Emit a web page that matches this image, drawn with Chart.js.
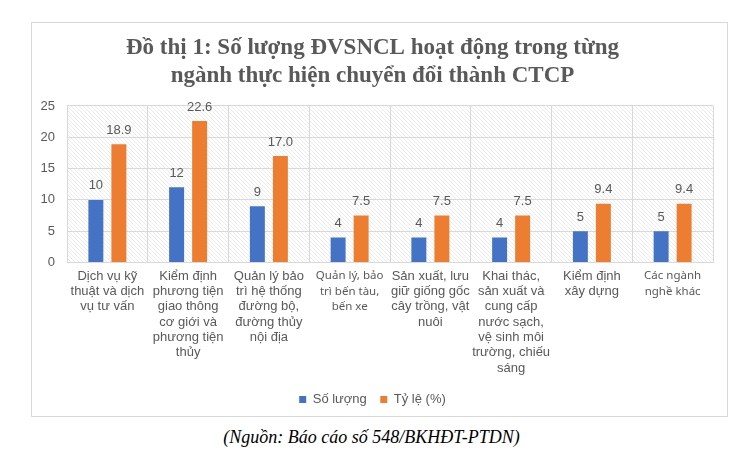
<!DOCTYPE html>
<html>
<head>
<meta charset="utf-8">
<script src="https://cdn.jsdelivr.net/npm/chart.js@4.4.1/dist/chart.umd.min.js"></script>
<style>
  body { margin: 0; background: #fff; width: 743px; height: 455px; position: relative; overflow: hidden; }
  #box { position: absolute; left: 31px; top: 22px; width: 695px; height: 393px; border: 1px solid #d9d9d9; }
  #myBarChart { display: block; }
  #caption { position: absolute; left: 0; width: 743px; top: 427px; text-align: center;
    font-family: "Liberation Serif", serif; font-style: italic; font-size: 18px; color: #000; }
</style>
</head>
<body>
<div id="box"><canvas id="myBarChart" width="695" height="393"></canvas></div>
<div id="caption">(Nguồn: Báo cáo số 548/BKHĐT-PTDN)</div>
<script>
const categories = [
    ['Dịch vụ kỹ', 'thuật và dịch', 'vụ tư vấn'],
    ['Kiểm định', 'phương tiện', 'giao thông', 'cơ giới và', 'phương tiện', 'thủy'],
    ['Quản lý bảo', 'trì hệ thống', 'đường bộ,', 'đường thủy', 'nội địa'],
    ['Quản lý, bảo', 'trì bến tàu,', 'bến xe'],
    ['Sản xuất, lưu', 'giữ giống gốc', 'cây trồng, vật', 'nuôi'],
    ['Khai thác,', 'sản xuất và', 'cung cấp', 'nước sạch,', 'vệ sinh môi', 'trường, chiếu', 'sáng'],
    ['Kiểm định', 'xây dựng'],
    ['Các ngành', 'nghề khác']
];
const soLuong = [10, 12, 9, 4, 4, 4, 5, 5];
const tyLe = [18.9, 22.6, 17.0, 7.5, 7.5, 7.5, 9.4, 9.4];
const yTicks = [0, 5, 10, 15, 20, 25];

// light diagonal hatch behind the plot area
const hatch = document.createElement('canvas');
hatch.width = 4; hatch.height = 4;
const hctx = hatch.getContext('2d');
hctx.fillStyle = '#ffffff';
hctx.fillRect(0, 0, 4, 4);
hctx.strokeStyle = '#ebebeb';
hctx.lineWidth = 1;
hctx.beginPath();
hctx.moveTo(0, 0); hctx.lineTo(4, 4);
hctx.stroke();

const plotBackground = {
    id: 'plotBackground',
    beforeDraw(chart) {
        const {ctx, chartArea} = chart;
        ctx.save();
        ctx.fillStyle = ctx.createPattern(hatch, 'repeat');
        ctx.fillRect(chartArea.left, chartArea.top, chartArea.right - chartArea.left, chartArea.bottom - chartArea.top);
        ctx.restore();
    }
};

const valueLabels = {
    id: 'valueLabels',
    afterDatasetsDraw(chart) {
        const ctx = chart.ctx;
        ctx.save();
        ctx.font = '13px "Liberation Sans", Arial, sans-serif';
        ctx.fillStyle = '#595959';
        ctx.textAlign = 'center';
        ctx.textBaseline = 'middle';
        chart.data.datasets.forEach((ds, i) => {
            chart.getDatasetMeta(i).data.forEach((bar, j) => {
                const v = ds.data[j];
                const txt = i === 1 ? v.toFixed(1) : String(v);
                ctx.fillText(txt, bar.x, bar.y - 14);
            });
        });
        ctx.restore();
    }
};

const ctx = document.getElementById('myBarChart').getContext('2d');
new Chart(ctx, {
    type: 'bar',
    data: {
        labels: categories,
        datasets: [{
            label: 'Số lượng',
            data: soLuong,
            backgroundColor: '#4472c4',
            borderColor: '#4472c4'
        }, {
            label: 'Tỷ lệ (%)',
            data: tyLe,
            backgroundColor: '#ed7d31',
            borderColor: '#ed7d31'
        }]
    },
    options: {
        responsive: false,
        animation: false,
        devicePixelRatio: 1,
        categoryPercentage: 0.57,
        barPercentage: 0.65,
        layout: { padding: { left: 0, right: 14, top: 0, bottom: 0 } },
        scales: {
            x: {
                afterFit: (scale) => { scale.height = 117; },
                grid: { color: '#d9d9d9', offset: true, drawTicks: false },
                border: { display: false },
                ticks: {
                    color: '#595959',
                    padding: 6,
                    maxRotation: 0,
                    autoSkip: false,
                    font: (c) => (c.index === 3 || c.index === 7)
                        ? { family: '"Noto Sans", sans-serif', size: 11.5, lineHeight: 1.33 }
                        : { family: '"Liberation Sans", Arial, sans-serif', size: 13, lineHeight: 1.18 }
                }
            },
            y: {
                min: 0,
                max: 25,
                afterBuildTicks: (scale) => { scale.ticks = yTicks.map(v => ({ value: v })); },
                afterFit: (scale) => { scale.width = 35; },
                grid: { color: '#d9d9d9', drawTicks: false },
                border: { display: false },
                ticks: {
                    color: '#595959',
                    padding: 12,
                    font: { family: '"Liberation Sans", Arial, sans-serif', size: 13 }
                }
            }
        },
        plugins: {
            title: {
                display: true,
                text: ['Đồ thị 1: Số lượng ĐVSNCL hoạt động trong từng', 'ngành thực hiện chuyển đổi thành CTCP'],
                color: '#595959',
                font: { family: '"Liberation Serif", "Times New Roman", serif', size: 23, weight: 'bold', lineHeight: 1.217 },
                padding: { top: 11, bottom: 16 }
            },
            legend: {
                position: 'bottom',
                labels: {
                    boxWidth: 7,
                    boxHeight: 7,
                    padding: 13.5,
                    color: '#595959',
                    font: { family: '"Liberation Sans", Arial, sans-serif', size: 13 }
                }
            },
            tooltip: { enabled: false }
        }
    },
    plugins: [plotBackground, valueLabels]
});
</script>
</body>
</html>
